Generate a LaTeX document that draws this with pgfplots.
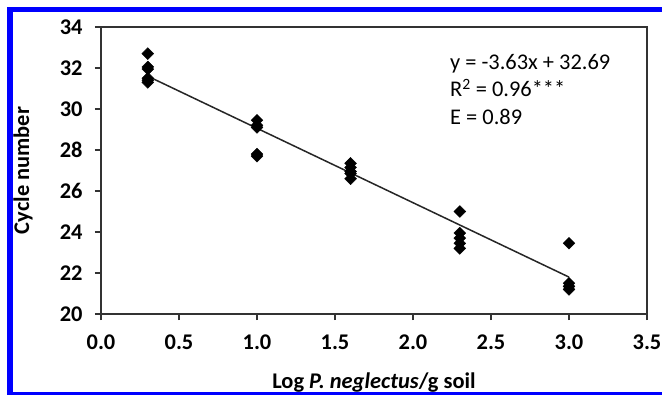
\documentclass[border=0pt]{standalone}
\usepackage{fontspec}
\setmainfont{Carlito}
\usepackage{pgfplots}
\pgfplotsset{compat=1.18}
\begin{document}
\begin{tikzpicture}
\useasboundingbox (0,0) rectangle (662bp,396bp);
\fill[white] (0,0) rectangle (662bp,396bp);
\fill[blue] (7bp,1bp) rectangle (12.5bp,389bp);
\fill[blue] (7bp,383.5bp) rectangle (662bp,389bp);
\fill[blue] (7bp,1bp) rectangle (662bp,4.3bp);
\begin{axis}[
  at={(101bp,82bp)},
  scale only axis,
  width=546bp, height=287bp,
  xmin=0, xmax=3.5, ymin=20, ymax=34,
  xtick={0,0.5,...,3.5},
  ytick={20,22,...,34},
  tick align=outside,
  xtick pos=bottom, ytick pos=left,
  major tick length=6bp,
  axis line style={black!80, line width=1.4bp},
  every tick/.style={black!80, line width=1.4bp},
  /pgf/number format/assume math mode=true,
  xticklabel style={/pgf/number format/fixed, /pgf/number format/fixed zerofill, /pgf/number format/precision=1, yshift=-11bp},
  yticklabel style={xshift=-9bp},
  ticklabel style={font=\fontsize{22.5}{27}\selectfont\bfseries},
  label style={font=\fontsize{22.5}{27}\selectfont\bfseries},
  xlabel={Log \textit{P. neglectus}/g soil},
  ylabel={Cycle number},
  xlabel style={at={(axis description cs:0.5,0)}, anchor=center, yshift=-69bp},
  ylabel style={at={(axis description cs:0,0.5)}, anchor=center, yshift=78bp},
  clip=false,
]
\addplot[only marks, mark=square*, mark options={rotate=45}, mark size=4.2bp, black] coordinates {
  (0.3,32.7) (0.3,32.05) (0.3,31.95) (0.3,31.5) (0.3,31.4) (0.3,31.3)
  (1.0,29.45) (1.0,29.2) (1.0,29.1) (1.0,27.8) (1.0,27.7)
  (1.6,27.35) (1.6,27.15) (1.6,26.95) (1.6,26.85) (1.6,26.6)
  (2.3,25.0) (2.3,23.95) (2.3,23.7) (2.3,23.45) (2.3,23.2)
  (3.0,23.45) (3.0,21.5) (3.0,21.35) (3.0,21.2)
};
\addplot[black!85, line width=1.5bp] coordinates {(0.3,31.60) (3.0,21.80)};
\node[anchor=base west, font=\fontsize{22.5}{27}\selectfont, inner sep=0pt] at (axis cs:2.237,31.95) {y = -3.63x + 32.69};
\node[anchor=base west, font=\fontsize{22.5}{27}\selectfont, inner sep=0pt] at (axis cs:2.237,30.6) {R\textsuperscript{2} = 0.96***};
\node[anchor=base west, font=\fontsize{22.5}{27}\selectfont, inner sep=0pt] at (axis cs:2.237,29.22) {E = 0.89};
\end{axis}
\end{tikzpicture}
\end{document}
